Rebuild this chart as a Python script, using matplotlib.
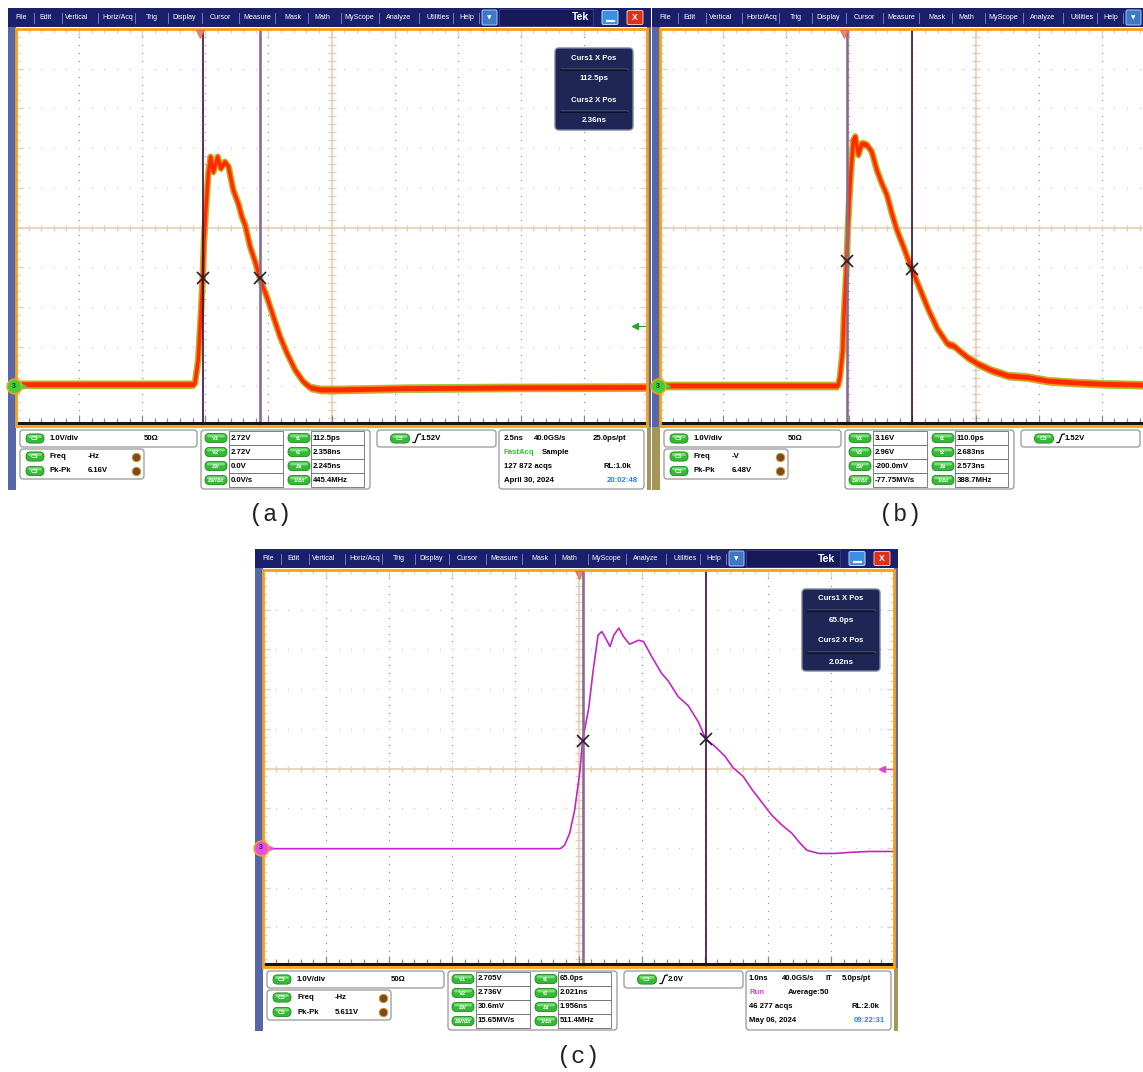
import numpy as np
import matplotlib
matplotlib.use("Agg")
import matplotlib.pyplot as plt
from matplotlib.patches import Rectangle, FancyBboxPatch
from matplotlib.collections import LineCollection
from matplotlib.transforms import blended_transform_factory

plt.rcParams['font.family'] = ['Liberation Sans', 'DejaVu Sans']

# ------------------------------------------------------------------ data
# panel (a): time (ns) / voltage (V)
t_a = [-7.29, -0.3, -0.2, -0.07, 0.03, 0.11, 0.16, 0.24, 0.33, 0.42, 0.53, 0.70, 0.82, 0.99,
       1.13, 1.32, 1.52, 1.66, 1.79, 1.99, 2.19, 2.38, 2.65, 2.91, 3.18, 3.45, 3.78, 4.10,
       4.37, 4.77, 5.56, 8.0, 12.0, 17.71]
v_a = [0.05, 0.05, 0.07, 0.66, 1.75, 2.72, 3.68, 4.52, 5.36, 5.78, 5.40, 5.78, 5.49, 5.65,
       5.53, 4.94, 4.60, 4.27, 4.06, 3.51, 3.13, 2.70, 2.25, 1.75, 1.24, 0.83, 0.40, 0.11,
       -0.03, -0.08, -0.08, -0.05, -0.03, -0.02]
# panel (b)
t_b = [-7.29, -0.23, -0.16, -0.05, 0.0, 0.05, 0.11, 0.15, 0.20, 0.27, 0.37, 0.45, 0.57, 0.71,
       0.91, 1.10, 1.30, 1.50, 1.70, 1.90, 2.10, 2.36, 2.68, 3.03, 3.36, 3.70, 4.10, 4.35,
       4.49, 4.89, 5.29, 5.82, 6.49, 7.28, 8.08, 9.01, 10.34, 11.9, 17.71]
v_b = [0.02, 0.02, 0.23, 0.90, 1.80, 2.40, 3.16, 3.93, 4.60, 5.36, 6.20, 6.29, 5.83, 6.12,
       6.08, 5.91, 5.45, 5.11, 4.82, 4.35, 3.93, 3.51, 2.96, 2.42, 1.91, 1.45, 1.07, 1.02,
       0.94, 0.73, 0.57, 0.41, 0.27, 0.23, 0.14, 0.10, 0.06, 0.04, 0.02]
# panel (c)
t_c = [-5.0, -0.30, -0.27, -0.22, -0.14, -0.06, 0.02, 0.065, 0.16, 0.23, 0.31, 0.37, 0.43,
       0.50, 0.56, 0.64, 0.71, 0.81, 0.95, 1.03, 1.16, 1.32, 1.42, 1.58, 1.74, 1.90, 2.02,
       2.16, 2.32, 2.45, 2.61, 2.75, 2.90, 3.06, 3.22, 3.38, 3.51, 3.62, 3.81, 4.06, 4.33,
       4.60, 5.0]
v_c = [-0.02, -0.02, 0.0, 0.07, 0.37, 0.96, 1.9, 2.705, 3.5, 4.44, 5.36, 5.45, 5.28, 5.07,
       5.36, 5.54, 5.33, 5.13, 5.23, 5.2, 4.82, 4.39, 4.21, 3.81, 3.58, 3.17, 2.736, 2.56,
       2.31, 2.02, 1.8, 1.47, 1.16, 0.83, 0.58, 0.37, 0.12, -0.06, -0.14, -0.14, -0.11,
       -0.09, -0.09]

# screen windows (time ns, volts)
xlim_a = (-7.29, 17.71); ylim_a = (-1.0, 9.0)
xlim_b = (-7.29, 17.71); ylim_b = (-1.0, 9.0)
xlim_c = (-5.0, 5.0);    ylim_c = (-3.0, 7.0)

# cursors
curs_t_a = [0.1125, 2.358]; curs_v_a = [2.72, 2.72]
curs_t_b = [0.110, 2.683];  curs_v_b = [3.16, 2.96]
curs_t_c = [0.065, 2.021];  curs_v_c = [2.705, 2.736]
trig_a = 1.52; trig_b = 1.52; trig_c = 2.0

menu_items = ["File", "Edit", "Vertical", "Horiz/Acq", "Trig", "Display", "Cursor", "Measure",
              "Mask", "Math", "MyScope", "Analyze", "Utilities", "Help"]
meas_left = ["V1", "V2", "ΔV", "ΔV/Δt"]
meas_right = ["t1", "t2", "Δt", "1/Δt"]

vals_left_a = ["2.72V", "2.72V", "0.0V", "0.0V/s"]
vals_right_a = ["112.5ps", "2.358ns", "2.245ns", "445.4MHz"]
vals_left_b = ["3.16V", "2.96V", "-200.0mV", "-77.75MV/s"]
vals_right_b = ["110.0ps", "2.683ns", "2.573ns", "388.7MHz"]
vals_left_c = ["2.705V", "2.736V", "30.6mV", "15.65MV/s"]
vals_right_c = ["65.0ps", "2.021ns", "1.956ns", "511.4MHz"]

freq_a, pk_a = "-Hz", "6.16V"
freq_b, pk_b = "-V", "6.48V"
freq_c, pk_c = "-Hz", "5.611V"
trigtxt_a, trigtxt_b, trigtxt_c = "1.52V", "1.52V", "2.0V"
readout_a = ["112.5ps", "2.36ns"]
readout_c = ["65.0ps", "2.02ns"]

GREEN_T = '#22cc22'; BLUE_T = '#2a80ff'; MAG_T = '#e040e0'
acq_a = [("2.5ns", 496, 0, 'k'), ("40.0GS/s", 526, 0, 'k'), ("25.0ps/pt", 585, 0, 'k'),
         ("FastAcq", 496, 1, GREEN_T), ("Sample", 534, 1, 'k'),
         ("127 872 acqs", 496, 2, 'k'), ("RL:1.0k", 596, 2, 'k'),
         ("April 30, 2024", 496, 3, 'k'), ("20:02:48", 599, 3, BLUE_T)]
acq_c = [("1.0ns", 494, 0, 'k'), ("40.0GS/s", 527, 0, 'k'), ("IT", 571, 0, 'k'),
         ("5.0ps/pt", 587, 0, 'k'), ("Run", 494, 1, MAG_T), ("Average:50", 533, 1, 'k'),
         ("46 277 acqs", 494, 2, 'k'), ("RL:2.0k", 597, 2, 'k'),
         ("May 06, 2024", 494, 3, 'k'), ("09:22:31", 599, 3, BLUE_T)]

# ------------------------------------------------------------------ figure
W, H = 1143, 1072
fig = plt.figure(figsize=(W / 100, H / 100), dpi=100)
fig.patch.set_facecolor('white')
bg = fig.add_axes([0, 0, 1, 1])
bg.set_xlim(0, W); bg.set_ylim(H, 0); bg.axis('off')

NAVY = '#1b206c'
STRIP = '#5666a8'
TAN = '#a8955c'
ORANGE = '#f4a11a'
BEIGE = '#e3cfb3'

PW, PH = 643, 482
MENU_H = 19
GX, GY, GW, GH = 8, 21, 631, 397
menu_x = [13, 38, 69, 110, 144, 176, 212, 249, 285, 314, 351, 391, 430, 459]


def rect(ax, x, y, w, h, **kw):
    ax.add_patch(Rectangle((x, y), w, h, **kw))


def rbox(ax, x, y, w, h, r=3, **kw):
    ax.add_patch(FancyBboxPatch((x, y), w, h, boxstyle=f"round,pad=0,rounding_size={r}", **kw))


def txt(ax, x, y, s, size=5.6, color='black', weight='bold', ha='left', **kw):
    if x > W - 4:          # element lies beyond the cropped screenshot edge
        return
    ax.text(x, y, s, fontsize=size, color=color, fontweight=weight, ha=ha, va='center', **kw)


def pill(x, y, w, label):
    rbox(bg, x - w / 2, y - 4.6, w, 9.2, r=4.5, fc='#36b936', ec='#1f8a1f', lw=0.6)
    rbox(bg, x - w / 2 + 2, y - 3.6, w - 4, 3.0, r=1.5, fc='#7be07b', ec='none')
    txt(bg, x, y + 0.3, label, size=4.2, color='white', ha='center')


def chrome(X0, Y0, left_tan):
    rect(bg, X0, Y0, PW, PH, fc='white', ec='none')
    rect(bg, X0, Y0, PW, MENU_H, fc=NAVY, ec='none')
    rect(bg, X0, Y0 + MENU_H, 8, PH - MENU_H, fc=STRIP, ec='none')
    iy = Y0 + GY + GH + 1
    if left_tan:
        rect(bg, X0, iy, 8, Y0 + PH - iy, fc=TAN, ec='none')
    rect(bg, X0 + GX + GW, Y0 + MENU_H, PW - GX - GW, iy - Y0 - MENU_H, fc=STRIP, ec='none')
    rect(bg, X0 + GX + GW, iy, PW - GX - GW, Y0 + PH - iy, fc=TAN, ec='none')
    # menu
    my = Y0 + 9.5
    for i, (m, mx) in enumerate(zip(menu_items, menu_x)):
        txt(bg, X0 + mx, my, m, size=5.1, color='white', weight='normal', ha='center')
        sx = (mx + menu_x[i + 1]) / 2 if i + 1 < len(menu_x) else 471
        bg.plot([X0 + sx, X0 + sx], [Y0 + 4.5, Y0 + 14.5], color='#7f8cc8', lw=0.6)
    rbox(bg, X0 + 474, Y0 + 2, 15, 15, r=1.5, fc='#3f78c8', ec='#a8c4ee', lw=0.7)
    bg.text(X0 + 481.5, Y0 + 10, '▼', fontsize=4.2, color='white', ha='center', va='center',
            family='DejaVu Sans')
    rect(bg, X0 + 491, Y0 + 1, 94, 17, fc='#161a58', ec='#3a4090', lw=0.6)
    txt(bg, X0 + 572, my, 'Tek', size=7.5, color='white', ha='center')
    rbox(bg, X0 + 594, Y0 + 2.5, 16, 14, r=1.5, fc='#3d8fe0', ec='#c0daf8', lw=0.7)
    bg.plot([X0 + 598.5, X0 + 605.5], [Y0 + 13, Y0 + 13], color='white', lw=1.6)
    rbox(bg, X0 + 619, Y0 + 2.5, 16, 14, r=1.5, fc='#e0301a', ec='#f8c0b0', lw=0.7)
    txt(bg, X0 + 627, my, 'X', size=6.2, color='white', ha='center')


def grid_axes(X0, Y0, xlim, ylim):
    x, y = X0 + GX, Y0 + GY
    ax = fig.add_axes([x / W, 1 - (y + GH) / H, GW / W, GH / H])
    ax.set_xlim(xlim); ax.set_ylim(ylim)
    ax.set_xticks([]); ax.set_yticks([])
    ax.set_facecolor('white')
    for s in ax.spines.values():
        s.set_color(ORANGE); s.set_linewidth(2.0); s.set_zorder(8)
    T = ax.transAxes
    sub = np.arange(1, 50) / 50.0
    vx, vy, hx, hy = [], [], [], []
    for i in (1, 2, 3, 4, 6, 7, 8, 9):
        vx.extend([i / 10] * 49); vy.extend(sub)
        hx.extend(sub); hy.extend([i / 10] * 49)
    ax.plot(vx, vy, ls='none', marker='s', ms=0.8, mew=0, color='#8e8e8e', transform=T)
    ax.plot(hx, hy, ls='none', marker='s', ms=0.85, mew=0, color='#c4c4c4', transform=T)
    ax.plot([0.5, 0.5], [0, 1], color=BEIGE, lw=1.2, transform=T)
    ax.plot([0, 1], [0.5, 0.5], color=BEIGE, lw=1.2, transform=T)
    dx, dy = 1.0 / GW, 1.0 / GH
    segs, bsegs = [], []
    for j, f in enumerate(sub, start=1):
        segs.append([(0.5 - 4 * dx, f), (0.5 + 4 * dx, f)])
        segs.append([(f, 0.5 - 3 * dy), (f, 0.5 + 3 * dy)])
        L = 7 if j % 5 == 0 else 4
        segs.append([(f, 1), (f, 1 - L * dy)])
        segs.append([(0, f), (L * dx, f)])
        segs.append([(1, f), (1 - L * dx, f)])
        bsegs.append([(f, 4 * dy), (f, (4 + L) * dy)])
    ax.add_collection(LineCollection(segs, colors=BEIGE, linewidths=1.0, transform=T))
    ax.add_collection(LineCollection(bsegs, colors='#8a8a8a', linewidths=0.9, transform=T))
    ax.plot([0, 1], [3 * dy, 3 * dy], color='#151515', lw=2.2, transform=T, zorder=7)
    return ax


def fastacq(ax, t, v):
    t = np.asarray(t); v = np.asarray(v)
    ax.fill_between(t, v - 0.11, v + 0.11, color='#9cc83a', lw=0, zorder=3)
    ax.plot(t, v, color='#9cc83a', lw=4.8, solid_joinstyle='round', zorder=3)
    ax.fill_between(t, v - 0.085, v + 0.085, color='#ff8a10', lw=0, zorder=3)
    ax.plot(t, v, color='#ff8a10', lw=3.6, solid_joinstyle='round', zorder=3)
    ax.fill_between(t, v - 0.06, v + 0.06, color='#ff2a00', lw=0, zorder=3)
    ax.plot(t, v, color='#ff2a00', lw=2.4, solid_joinstyle='round', zorder=3)


def markers(ax, curs_t, curs_v, active, trig, trig_col, gnd_col):
    for k, (ct, cv) in enumerate(zip(curs_t, curs_v)):
        if k == active:
            ax.axvline(ct, color='#3a0d40', lw=1.2, zorder=5)
        else:
            ax.axvline(ct, color='#8a6a92', lw=1.9, zorder=5)
        ax.plot([ct], [cv], marker='x', ms=8.5, mew=1.2, color='#2b1b33', zorder=6)
    dx = 1.0 / GW
    btx = blended_transform_factory(ax.transData, ax.transAxes)
    bty = blended_transform_factory(ax.transAxes, ax.transData)
    ax.plot([0], [1 - 0.012], marker='v', ms=5.5, color='#f0866a', mec='#d06040', mew=0.5,
            transform=btx, clip_on=False, zorder=9)
    ax.plot([1 - 12 * dx, 1], [trig, trig], color=trig_col, lw=0.9, transform=bty, zorder=6)
    ax.plot([1 - 12 * dx], [trig], marker='<', ms=3.8, color=trig_col, transform=bty, zorder=6)
    ax.plot([-2 * dx], [0], marker='o', ms=10.5, mfc=gnd_col, mec=ORANGE, mew=1.2,
            transform=bty, clip_on=False, zorder=10)
    ax.text(-2 * dx, 0, '3', transform=bty, ha='center', va='center', fontsize=5,
            fontweight='bold', color='#203020', zorder=11, clip_on=False)
    ax.plot([7 * dx], [0], marker='>', ms=3.8, color=gnd_col, transform=bty, zorder=6)


def info(X0, Y0, freq, pk, lv, rv, trigtxt, acq):
    ec = '#8a8a8a'
    rbox(bg, X0 + 12, Y0 + 422, 177, 17, r=3, fc='white', ec=ec, lw=0.8)
    pill(X0 + 27, Y0 + 430.5, 18, 'C3')
    txt(bg, X0 + 42, Y0 + 430.5, '1.0V/div')
    txt(bg, X0 + 136, Y0 + 430.5, '50Ω')
    rbox(bg, X0 + 12, Y0 + 441, 124, 30, r=3, fc='white', ec=ec, lw=0.8)
    for yy, lab, val in ((448.5, 'Freq', freq), (463, 'Pk-Pk', pk)):
        pill(X0 + 27, Y0 + yy, 18, 'C3')
        txt(bg, X0 + 42, Y0 + yy, lab)
        txt(bg, X0 + 80, Y0 + yy, val)
        bg.plot([X0 + 128], [Y0 + yy], marker='o', ms=6, mfc='#7a4a1a', mec='#d09030',
                mew=0.7)
    rbox(bg, X0 + 193, Y0 + 422, 169, 59, r=3, fc='white', ec=ec, lw=0.8)
    for r in range(4):
        yy = Y0 + 430 + 14 * r
        pill(X0 + 208, yy, 22, meas_left[r])
        rect(bg, X0 + 221, yy - 7, 54, 14, fc='white', ec='#6a6a6a', lw=0.6)
        txt(bg, X0 + 222.5, yy, lv[r])
        pill(X0 + 291, yy, 22, meas_right[r])
        rect(bg, X0 + 303, yy - 7, 53, 14, fc='white', ec='#6a6a6a', lw=0.6)
        txt(bg, X0 + 304.5, yy, rv[r])
    rbox(bg, X0 + 369, Y0 + 422, 119, 17, r=3, fc='white', ec=ec, lw=0.8)
    pill(X0 + 392, Y0 + 430.5, 19, 'C3')
    ex, ey = X0 + 405, Y0 + 430.5
    bg.plot([ex, ex + 2, ex + 5, ex + 7.5], [ey + 4, ey + 4, ey - 4, ey - 4.5], color='black',
            lw=0.9)
    txt(bg, X0 + 413, Y0 + 430.5, trigtxt)
    if acq is not None:
        rbox(bg, X0 + 491, Y0 + 422, 145, 59, r=3, fc='white', ec=ec, lw=0.8)
        for s, xr, row, col in acq:
            txt(bg, X0 + xr, Y0 + 430 + 14 * row, s, color=col)


def readout(top, X0, Y0, vals):
    rbox(top, X0 + 547, Y0 + 40, 78, 82, r=4, fc='#1e2655', ec='#7d84a0', lw=1.0)
    for k, (lab, val) in enumerate(zip(["Curs1 X Pos", "Curs2 X Pos"], vals)):
        y0 = Y0 + 50 + 42 * k
        txt(top, X0 + 586, y0, lab, size=5.6, color='white', ha='center')
        top.plot([X0 + 553, X0 + 619], [y0 + 10.5, y0 + 10.5], color='#b7bccb', lw=1.0)
        top.plot([X0 + 553, X0 + 619], [y0 + 12, y0 + 12], color='#05081c', lw=1.2)
        txt(top, X0 + 586, y0 + 21, val, size=5.8, color='white', ha='center')


# ------------------------------------------------------------------ panels
XA, YA = 8, 8
XB, YB = 652, 8
XC, YC = 255, 549

chrome(XA, YA, left_tan=False)
chrome(XB, YB, left_tan=True)
chrome(XC, YC, left_tan=False)

info(XA, YA, freq_a, pk_a, vals_left_a, vals_right_a, trigtxt_a, acq_a)
info(XB, YB, freq_b, pk_b, vals_left_b, vals_right_b, trigtxt_b, None)
info(XC, YC, freq_c, pk_c, vals_left_c, vals_right_c, trigtxt_c, acq_c)

ax_a = grid_axes(XA, YA, xlim_a, ylim_a)
fastacq(ax_a, t_a, v_a)
markers(ax_a, curs_t_a, curs_v_a, 0, trig_a, '#2ca02c', '#3cd03c')

ax_b = grid_axes(XB, YB, xlim_b, ylim_b)
fastacq(ax_b, t_b, v_b)
markers(ax_b, curs_t_b, curs_v_b, 1, trig_b, '#2ca02c', '#3cd03c')

ax_c = grid_axes(XC, YC, xlim_c, ylim_c)
ax_c.plot(t_c, v_c, color='#c426c4', lw=1.2, zorder=4)
markers(ax_c, curs_t_c, curs_v_c, 1, trig_c, '#e040e0', '#f048f0')

top = fig.add_axes([0, 0, 1, 1], zorder=20)
top.set_xlim(0, W); top.set_ylim(H, 0); top.axis('off')
readout(top, XA, YA, readout_a)
readout(top, XC, YC, readout_c)

for s, x, y in (("(a)", 270, 515), ("(b)", 900, 515), ("(c)", 578, 1057)):
    top.text(x, y, s, fontsize=17, family='Liberation Mono', ha='center', va='center',
             color='#222222')

fig.savefig('out.png', dpi=100)
